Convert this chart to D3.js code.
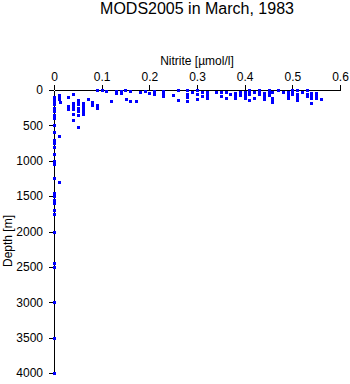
<!DOCTYPE html>
<html>
<head>
<meta charset="utf-8">
<script src="https://cdn.jsdelivr.net/npm/d3@7"></script>
<style>
  body { margin: 0; background: #fff; }
  svg text { font-family: "Liberation Sans", Arial, Helvetica, sans-serif; fill: #000; }
</style>
</head>
<body>
<div id="chart"></div>
<script>
// nitrite readings [umol/l] and the depth [m] they were taken at (paired by index)
const nitrite = [
  0, 0, 0, 0, 0, 0, 0, 0, 0, 0, 0, 0, 0, 0, 0, 0, 0, 0, 0, 0, 0, 0, 0, 0, 0, 0, 0, 0, 0, 0,
  0.01, 0.01, 0.01, 0.012, 0.01, 0.01,
  0.029, 0.04, 0.03, 0.03,
  0.04, 0.04, 0.04, 0.04, 0.04, 0.04,
  0.05, 0.05, 0.05, 0.05, 0.05, 0.05, 0.05,
  0.06, 0.06, 0.06, 0.06, 0.06,
  0.071, 0.08, 0.08, 0.09, 0.09, 0.09, 0.1, 0.11, 0.12,
  0.13, 0.13, 0.14, 0.14, 0.149, 0.15, 0.159, 0.159, 0.172,
  0.18, 0.19, 0.2, 0.21, 0.21, 0.228, 0.228, 0.228, 0.25, 0.26, 0.26,
  0.279, 0.279, 0.279, 0.279, 0.29, 0.3, 0.3, 0.3,
  0.31, 0.31, 0.32, 0.32, 0.32, 0.34, 0.35, 0.35, 0.36, 0.36, 0.369,
  0.38, 0.38, 0.38, 0.39, 0.39, 0.4, 0.4, 0.4,
  0.41, 0.41, 0.41, 0.41, 0.42, 0.42, 0.43, 0.43, 0.43,
  0.44, 0.44, 0.44, 0.45, 0.45, 0.45, 0.458, 0.458, 0.458, 0.458,
  0.47, 0.48, 0.49, 0.49, 0.49, 0.5, 0.5, 0.5, 0.51, 0.51, 0.51, 0.51,
  0.52, 0.53, 0.53, 0.53, 0.54, 0.54, 0.54, 0.54, 0.55, 0.55, 0.55, 0.56
]
const depth = [
  100, 125, 150, 175, 200, 250, 300, 350, 400, 500, 600, 700, 750, 800, 900, 1000, 1050, 1250, 1450, 1500, 1550, 1600, 1700, 1750, 2000, 2450, 2500, 3000, 3500, 4000,
  75, 100, 125, 170, 650, 1300,
  100, 60, 220, 270,
  180, 200, 230, 270, 340, 425,
  140, 175, 200, 250, 300, 350, 520,
  180, 220, 250, 300, 340,
  130, 170, 210, 210, 250, 0, 0, 15, 150,
  10, 40, 10, 40, 0, 130, 20, 150, 160,
  25, 15, 40, 10, 60, 20, 50, 80, 70, 0, 145,
  0, 50, 100, 160, 25, 0, 50, 130,
  25, 80, 30, 75, 110, 25, 25, 90, 30, 120, 60,
  40, 75, 110, 35, 70, 30, 75, 110,
  0, 30, 60, 140, 25, 110, 0, 30, 60,
  40, 80, 130, 0, 35, 70, 25, 110, 140, 170,
  5, 30, 30, 70, 110, 0, 30, 60, 0, 50, 100, 140,
  25, 0, 50, 90, 40, 80, 120, 180, 40, 75, 110, 130
]
const xTicks = [0, 0.1, 0.2, 0.3, 0.4, 0.5, 0.6]
const yTicks = [0, 500, 1000, 1500, 2000, 2500, 3000, 3500, 4000]

const points = nitrite.map((v, i) => ({ v: v, d: depth[i] }))

const W = 350, H = 384
const svg = d3.select('#chart').append('svg')
  .attr('width', W)
  .attr('height', H)

const x = d3.scaleLinear().domain([0, 0.6]).range([54, 340])
const y = d3.scaleLinear().domain([0, 4000]).range([90, 373])

// title
svg.append('text')
  .attr('x', 197).attr('y', 14)
  .attr('text-anchor', 'middle')
  .style('font-size', '16px')
  .text('MODS2005 in March, 1983')

// x axis on top
const xAxis = svg.append('g')
  .attr('transform', 'translate(0,' + y(0) + ')')
  .call(d3.axisTop(x).tickValues(xTicks).tickFormat(d => d === 0 ? '0' : d3.format('.1f')(d))
    .tickSize(5).tickSizeOuter(0).tickPadding(4))
xAxis.selectAll('text').style('font-size', '12px').style('font-family', '"Liberation Sans", Arial, sans-serif')

svg.append('text')
  .attr('x', 197).attr('y', 65)
  .attr('text-anchor', 'middle')
  .style('font-size', '12px')
  .text('Nitrite [\u00b5mol/l]')

// y axis
const yAxis = svg.append('g')
  .attr('transform', 'translate(' + x(0) + ',0)')
  .call(d3.axisLeft(y).tickValues(yTicks).tickFormat(d3.format('d'))
    .tickSize(5).tickSizeOuter(0).tickPadding(6))
yAxis.selectAll('text').style('font-size', '12px').style('font-family', '"Liberation Sans", Arial, sans-serif')

svg.selectAll('.domain, .tick line').attr('stroke', '#000').attr('shape-rendering', 'crispEdges')

svg.append('text')
  .attr('transform', 'translate(12,241) rotate(-90)')
  .attr('text-anchor', 'middle')
  .style('font-size', '12px')
  .text('Depth [m]')

// data markers
svg.append('g').selectAll('rect')
  .data(points)
  .enter().append('rect')
    .attr('x', d => Math.round(x(d.v)) - 1.5)
    .attr('y', d => Math.round(y(d.d)) - 1.5)
    .attr('width', 3)
    .attr('height', 3)
    .attr('fill', '#0000ff')
    .attr('shape-rendering', 'crispEdges')
</script>
</body>
</html>
